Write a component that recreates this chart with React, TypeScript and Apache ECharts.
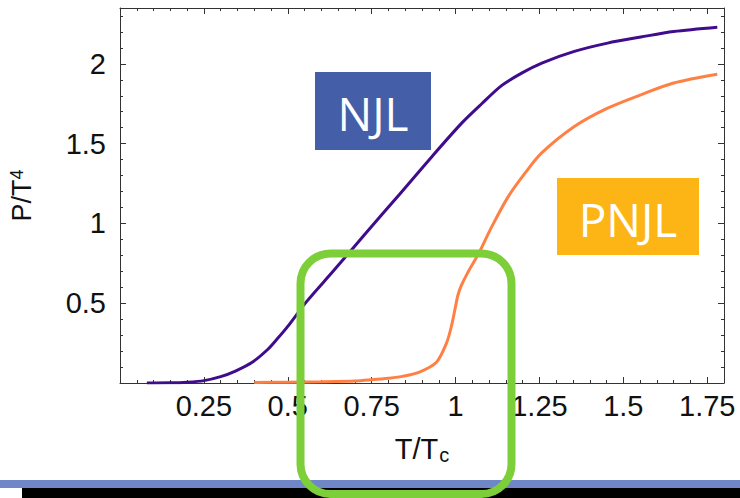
import React, { useEffect, useRef } from "react";
import * as echarts from "echarts";

// T/Tc sample points and P/T^4 values for each model
const njlT = [0.08, 0.15, 0.2, 0.25, 0.3, 0.344, 0.394, 0.44, 0.47, 0.5, 0.556, 0.635, 0.733, 0.832, 0.93, 1.019, 1.078, 1.138, 1.197, 1.257, 1.354, 1.453, 1.552, 1.65, 1.78];
const njlP = [0, 0.001, 0.005, 0.015, 0.04, 0.075, 0.13, 0.21, 0.28, 0.355, 0.51, 0.7, 0.94, 1.18, 1.42, 1.63, 1.75, 1.865, 1.942, 2.005, 2.078, 2.13, 2.168, 2.203, 2.23];

const pnjlT = [0.4, 0.5, 0.6, 0.7, 0.747, 0.8, 0.845, 0.894, 0.943, 0.973, 0.987, 1.0, 1.007, 1.017, 1.036, 1.069, 1.108, 1.157, 1.207, 1.256, 1.354, 1.453, 1.552, 1.65, 1.78];
const pnjlP = [0.003, 0.005, 0.008, 0.013, 0.02, 0.03, 0.043, 0.07, 0.13, 0.25, 0.35, 0.48, 0.55, 0.61, 0.69, 0.812, 0.98, 1.168, 1.315, 1.44, 1.607, 1.722, 1.806, 1.88, 1.935];

const xMax = 1.8;
const yMax = 2.35;
const xMajor = 0.25;
const yMajor = 0.5;

const labelFont = "'Liberation Sans', Arial, sans-serif";
const frameColor = "#333";

const isMultiple = (v: number, step: number) => Math.abs(v / step - Math.round(v / step)) < 1e-6;

function frameAxis(
  kind: "x" | "y",
  position: string,
  interval: number,
  tickLen: number,
  withLabels: boolean,
  withLine: boolean
) {
  const max = kind === "x" ? xMax : yMax;
  const step = kind === "x" ? xMajor : yMajor;
  return {
    type: "value",
    position,
    min: 0,
    max,
    interval,
    axisLine: { show: withLine, onZero: false, lineStyle: { color: frameColor, width: 1 } },
    axisTick: { show: true, inside: true, length: tickLen, lineStyle: { color: frameColor, width: 1 } },
    splitLine: { show: false },
    axisLabel: withLabels
      ? {
          show: true,
          fontFamily: labelFont,
          fontSize: 29,
          color: "#111",
          margin: kind === "x" ? 8 : 14,
          formatter: (v: number) => (v === 0 || !isMultiple(v, step) ? "" : String(v)),
        }
      : { show: false },
  };
}

export default function App() {
  const ref = useRef<HTMLDivElement>(null);

  useEffect(() => {
    if (!ref.current) return;
    const chart = echarts.init(ref.current, undefined, { renderer: "svg" });

    const xBottom: any = frameAxis("x", "bottom", xMajor, 6, true, true);
    xBottom.name = "T/T{sub|c}";
    xBottom.nameLocation = "middle";
    xBottom.nameGap = 50;
    xBottom.nameTextStyle = {
      fontFamily: labelFont,
      fontSize: 29,
      color: "#111",
      rich: {
        sub: { fontFamily: labelFont, fontSize: 20, color: "#111", verticalAlign: "bottom", padding: [12, 0, 0, 1] },
      },
    };

    const yLeft: any = frameAxis("y", "left", yMajor, 6, true, true);
    yLeft.name = "P/T{sup|4}";
    yLeft.nameLocation = "middle";
    yLeft.nameGap = 84;
    yLeft.nameTextStyle = {
      fontFamily: labelFont,
      fontSize: 27,
      color: "#111",
      rich: {
        sup: { fontFamily: labelFont, fontSize: 18, color: "#111", verticalAlign: "top", padding: [0, 0, 10, 0] },
      },
    };

    const option: any = {
      animation: false,
      backgroundColor: "#fff",
      grid: { left: 116, top: 8, right: 16, bottom: 115, containLabel: false },
      xAxis: [
        xBottom,
        frameAxis("x", "bottom", 0.05, 3, false, false),
        frameAxis("x", "top", xMajor, 6, false, true),
        frameAxis("x", "top", 0.05, 3, false, false),
      ],
      yAxis: [
        yLeft,
        frameAxis("y", "left", 0.1, 3, false, false),
        frameAxis("y", "right", yMajor, 6, false, true),
        frameAxis("y", "right", 0.1, 3, false, false),
      ],
      series: [
        {
          name: "NJL",
          type: "line",
          xAxisIndex: 0,
          yAxisIndex: 0,
          data: njlT.map((t, i) => [t, njlP[i]]),
          showSymbol: false,
          smooth: 0.3,
          lineStyle: { color: "#3f0c8c", width: 3 },
          z: 3,
        },
        {
          name: "PNJL",
          type: "line",
          xAxisIndex: 0,
          yAxisIndex: 0,
          data: pnjlT.map((t, i) => [t, pnjlP[i]]),
          showSymbol: false,
          smooth: 0.3,
          lineStyle: { color: "#ff8044", width: 3 },
          z: 2,
        },
      ],
      graphic: [
        { type: "rect", shape: { x: 315, y: 72, width: 116, height: 78 }, style: { fill: "#445ea8" }, z: 10 },
        {
          type: "text",
          x: 373,
          y: 113,
          style: {
            text: "NJL",
            fill: "#fff",
            fontFamily: "'Open Sans', 'DejaVu Sans', sans-serif",
            fontSize: 46,
            textAlign: "center",
            textVerticalAlign: "middle",
          },
          z: 11,
        },
        { type: "rect", shape: { x: 557, y: 178, width: 142, height: 77 }, style: { fill: "#fdb515" }, z: 10 },
        {
          type: "text",
          x: 628,
          y: 219,
          style: {
            text: "PNJL",
            fill: "#fff",
            fontFamily: "'Open Sans', 'DejaVu Sans', sans-serif",
            fontSize: 46,
            textAlign: "center",
            textVerticalAlign: "middle",
          },
          z: 11,
        },
        { type: "rect", shape: { x: 0, y: 480, width: 740, height: 8 }, style: { fill: "#6f87c6" }, z: 10 },
        { type: "rect", shape: { x: 22, y: 488, width: 718, height: 10 }, style: { fill: "#000" }, z: 10 },
        {
          type: "rect",
          shape: { x: 300.5, y: 253.5, width: 211, height: 240.5, r: 30 },
          style: { fill: "none", stroke: "#7dcf3a", lineWidth: 8 },
          z: 20,
        },
      ],
    };

    chart.setOption(option);
    return () => chart.dispose();
  }, []);

  return (
    <div
      ref={ref}
      style={{ position: "fixed", left: 0, top: 0, width: 740, height: 498, background: "#fff" }}
    />
  );
}
